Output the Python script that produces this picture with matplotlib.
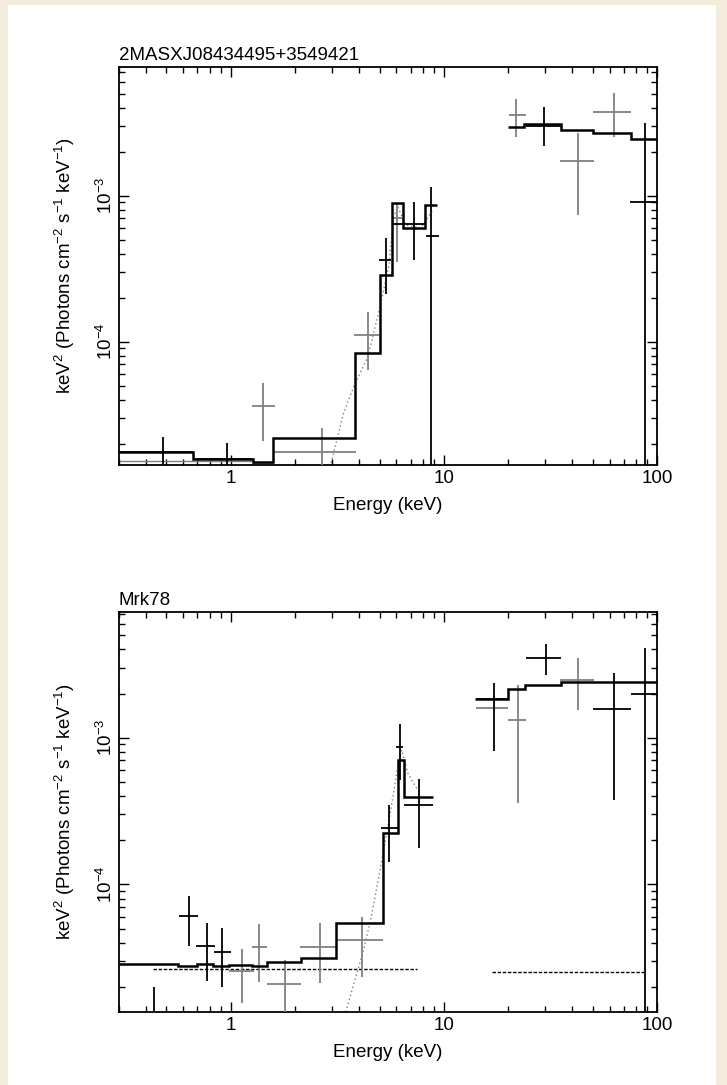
import matplotlib
matplotlib.use("Agg")
import matplotlib.pyplot as plt
from matplotlib.patches import Rectangle
from matplotlib.ticker import LogLocator, FixedLocator, FixedFormatter, NullFormatter

plt.rcParams['font.family'] = ['Liberation Sans', 'DejaVu Sans']
plt.rcParams['mathtext.fontset'] = 'custom'
plt.rcParams['mathtext.rm'] = 'Liberation Sans'
plt.rcParams['mathtext.it'] = 'Liberation Sans:italic'

# ---------------- 2MASXJ08434495+3549421 ----------------
top_name = "2MASXJ08434495+3549421"
top_e = [0.485, 0.965, 1.42, 2.70, 4.41, 5.34, 6.02, 7.23, 8.69, 21.9, 29.6, 42.7, 63.0, 87.8]
top_e_lo = [0.30, 0.67, 1.26, 1.59, 3.79, 4.99, 5.70, 5.75, 8.23, 20.2, 24.3, 35.2, 50.2, 75.0]
top_e_hi = [0.67, 1.28, 1.61, 3.86, 4.99, 5.68, 6.35, 8.17, 9.50, 24.3, 35.4, 50.8, 75.5, 115]
top_f = [1.76e-5, 1.57e-5, 3.65e-5, 1.76e-5, 1.11e-4, 3.63e-4, 7.0e-4, 6.35e-4, 5.30e-4,
         3.57e-3, 3.02e-3, 1.73e-3, 3.76e-3, 9.0e-4]
top_f_lo = [1e-6, 1e-6, 2.09e-5, 1e-6, 6.40e-5, 2.11e-4, 3.52e-4, 3.63e-4, 1e-7,
            2.54e-3, 2.17e-3, 7.38e-4, 2.54e-3, 1e-7]
top_f_hi = [2.22e-5, 2.02e-5, 5.19e-5, 2.56e-5, 1.60e-4, 5.15e-4, 8.9e-4, 9.1e-4, 1.15e-3,
            4.59e-3, 4.07e-3, 2.67e-3, 5.03e-3, 3.13e-3]
top_col = ['k', 'k', 'g', 'g', 'g', 'k', 'g', 'k', 'k', 'g', 'k', 'g', 'g', 'k']

top_mod_edges = [0.30, 0.67, 1.28, 1.575, 3.82, 5.01, 5.70, 6.42, 8.14, 9.27]
top_mod_vals = [1.76e-5, 1.57e-5, 1.50e-5, 2.19e-5, 8.41e-5, 2.86e-4, 8.9e-4, 6.01e-4, 8.64e-4]
top_bat_edges = [20.0, 23.7, 35.4, 50.1, 75.5, 150]
top_bat_vals = [2.97e-3, 3.08e-3, 2.82e-3, 2.68e-3, 2.44e-3]
top_gmod_edges = [0.30, 1.28, 1.575]
top_gmod_vals = [1.52e-5, 1.48e-5]
top_dot_e = [2.90, 3.39, 3.78, 4.40, 4.90, 5.23, 5.52, 5.82, 6.08, 6.63, 7.8, 8.88]
top_dot_f = [1.3e-5, 3.25e-5, 4.90e-5, 7.86e-5, 1.48e-4, 2.26e-4, 3.25e-4, 7.15e-4, 8.4e-4,
             6.3e-4, 6.0e-4, 7.98e-4]

# ---------------- Mrk78 ----------------
bot_name = "Mrk78"
bot_e = [0.436, 0.637, 0.772, 0.914, 1.135, 1.358, 1.81, 2.63, 4.15, 5.54, 6.21, 7.66,
         17.2, 17.2, 22.2, 30.1, 42.4, 63.0, 87.8]
bot_e_lo = [0.40, 0.572, 0.692, 0.835, 0.982, 1.264, 1.476, 2.11, 3.11, 5.10, 5.98, 6.51,
            14.1, 14.1, 20.0, 24.3, 35.2, 50.3, 75.5]
bot_e_hi = [0.47, 0.702, 0.850, 1.0, 1.286, 1.487, 2.13, 3.11, 5.17, 6.08, 6.45, 8.94,
            20.0, 20.0, 24.3, 35.4, 50.6, 75.5, 115]
bot_f = [1.1e-5, 6.09e-5, 3.82e-5, 3.48e-5, 2.57e-5, 3.76e-5, 2.08e-5, 3.76e-5, 4.18e-5,
         2.44e-4, 8.68e-4, 3.48e-4, 1.59e-3, 1.83e-3, 1.32e-3, 3.51e-3, 2.47e-3, 1.56e-3, 2.0e-3]
bot_f_lo = [1e-6, 3.80e-5, 2.21e-5, 1.99e-5, 1.55e-5, 2.17e-5, 1e-6, 2.12e-5, 2.35e-5,
            1.43e-4, 5.15e-4, 1.76e-4, 1.59e-3, 8.15e-4, 3.57e-4, 2.67e-3, 1.55e-3, 3.76e-4, 1e-7]
bot_f_hi = [2.01e-5, 8.33e-5, 5.48e-5, 5.02e-5, 3.61e-5, 5.35e-5, 3.05e-5, 5.43e-5, 6.03e-5,
            3.48e-4, 1.24e-3, 5.23e-4, 1.59e-3, 2.37e-3, 2.29e-3, 4.35e-3, 3.48e-3, 2.75e-3, 4.07e-3]
bot_col = ['k', 'k', 'k', 'k', 'g', 'g', 'g', 'g', 'g', 'k', 'k', 'k',
           'g', 'k', 'g', 'k', 'g', 'k', 'k']

bot_mod_edges = [0.301, 0.570, 0.700, 0.832, 0.979, 1.268, 1.476, 2.13, 3.11, 5.17, 6.08, 6.49, 8.88]
bot_mod_vals = [2.87e-5, 2.78e-5, 2.87e-5, 2.78e-5, 2.84e-5, 2.78e-5, 2.97e-5, 3.16e-5,
                5.43e-5, 2.23e-4, 7.05e-4, 3.96e-4]
bot_bat_edges = [14.0, 20.0, 24.0, 35.4, 50.6, 150]
bot_bat_vals = [1.84e-3, 2.15e-3, 2.29e-3, 2.40e-3, 2.41e-3]
bot_dash_soft_e = [0.435, 7.52]
bot_dash_soft_f = [2.65e-5, 2.65e-5]
bot_dash_hard_e = [16.9, 87.2]
bot_dash_hard_f = [2.52e-5, 2.52e-5]
bot_dot_e = [3.47, 4.17, 4.54, 5.06, 5.64, 6.08, 6.35, 6.78, 7.55]
bot_dot_f = [1.35e-5, 3.41e-5, 5.72e-5, 1.32e-4, 3.21e-4, 6.3e-4, 8.25e-4, 5.75e-4, 4.40e-4]

GRAY = '#808080'
W, H = 727, 1085
FS = 13.5

fig = plt.figure(figsize=(W / 100, H / 100), dpi=100)
fig.patch.set_facecolor('#f3ecdc')
fig.patches.append(Rectangle((8 / W, 0), (716 - 8) / W, 1 - 5 / H, transform=fig.transFigure,
                             facecolor='white', edgecolor='none', zorder=-10))


def draw_cross(ax, e, elo, ehi, f, flo, fhi, cols):
    for i in range(len(e)):
        c = 'k' if cols[i] == 'k' else GRAY
        ax.errorbar([e[i]], [f[i]],
                    xerr=[[e[i] - elo[i]], [ehi[i] - e[i]]],
                    yerr=[[f[i] - flo[i]], [fhi[i] - f[i]]],
                    fmt='none', ecolor=c, elinewidth=1.3, capsize=0, zorder=3)


def style_axes(ax, name, ylim):
    ax.set_xscale('log')
    ax.set_yscale('log')
    ax.set_xlim(0.3, 100)
    ax.set_ylim(*ylim)
    for s in ax.spines.values():
        s.set_linewidth(1.3)
    ax.xaxis.set_major_locator(FixedLocator([1, 10, 100]))
    ax.xaxis.set_major_formatter(FixedFormatter(['1', '10', '100']))
    ax.xaxis.set_minor_locator(LogLocator(base=10, subs=range(2, 10)))
    ax.xaxis.set_minor_formatter(NullFormatter())
    ax.yaxis.set_major_locator(FixedLocator([1e-4, 1e-3]))
    ax.yaxis.set_major_formatter(FixedFormatter([r'$10^{-4}$', r'$10^{-3}$']))
    ax.yaxis.set_minor_locator(LogLocator(base=10, subs=range(2, 10)))
    ax.yaxis.set_minor_formatter(NullFormatter())
    ax.tick_params(which='both', direction='in', top=True, right=True, width=1.0, labelsize=FS)
    ax.tick_params(which='major', length=7)
    ax.tick_params(which='minor', length=4)
    ax.tick_params(axis='y', labelrotation=90, pad=2)
    for lbl in ax.get_yticklabels():
        lbl.set_va('center')
    ax.set_title(name, loc='left', fontsize=FS, pad=5)
    ax.set_xlabel('Energy (keV)', fontsize=FS, labelpad=7)
    ax.set_ylabel(r'keV$^2$ (Photons cm$^{-2}$ s$^{-1}$ keV$^{-1}$)', fontsize=FS)
    ax.yaxis.set_label_coords(-0.078, 0.5)


# top panel
ax1 = fig.add_axes([119 / W, 1 - 465 / H, 538 / W, 398 / H])
ax1.plot(top_dot_e, top_dot_f, ls=(0, (1, 2)), color=GRAY, lw=1.0, zorder=1)
ax1.stairs(top_gmod_vals, top_gmod_edges, baseline=None, color=GRAY, lw=1.0, zorder=2)
ax1.stairs(top_mod_vals, top_mod_edges, baseline=None, color='k', lw=1.8, zorder=4)
ax1.stairs(top_bat_vals, top_bat_edges, baseline=None, color='k', lw=1.8, zorder=4)
draw_cross(ax1, top_e, top_e_lo, top_e_hi, top_f, top_f_lo, top_f_hi, top_col)
style_axes(ax1, top_name, (1.43e-5, 7.6e-3))

# bottom panel
ax2 = fig.add_axes([119 / W, 1 - 1012 / H, 538 / W, 400 / H])
ax2.plot(bot_dot_e, bot_dot_f, ls=(0, (1, 2)), color=GRAY, lw=1.0, zorder=1)
ax2.plot(bot_dash_soft_e, bot_dash_soft_f, ls=(0, (2.5, 1.2)), color='k', lw=1.0, zorder=2)
ax2.plot(bot_dash_hard_e, bot_dash_hard_f, ls=(0, (2.5, 1.2)), color='k', lw=1.0, zorder=2)
ax2.stairs(bot_mod_vals, bot_mod_edges, baseline=None, color='k', lw=1.8, zorder=4)
ax2.stairs(bot_bat_vals, bot_bat_edges, baseline=None, color='k', lw=1.8, zorder=4)
draw_cross(ax2, bot_e, bot_e_lo, bot_e_hi, bot_f, bot_f_lo, bot_f_hi, bot_col)
style_axes(ax2, bot_name, (1.35e-5, 7.2e-3))

fig.savefig('out.png', dpi=100, facecolor=fig.get_facecolor())
